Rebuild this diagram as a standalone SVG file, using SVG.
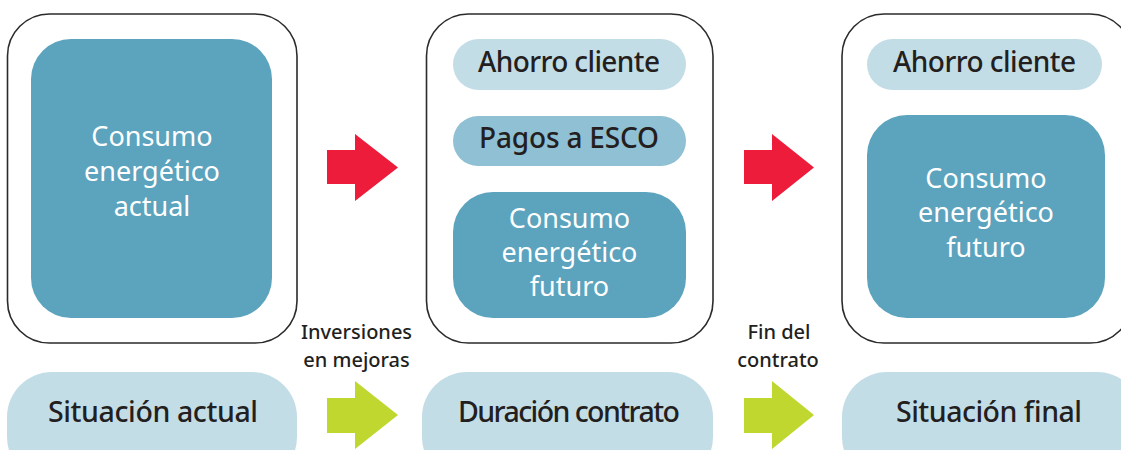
<svg xmlns="http://www.w3.org/2000/svg" width="1121" height="450" viewBox="0 0 1121 450">
<defs>
<style>
.frame{fill:#fff;stroke:#2b2b2b;stroke-width:1.6}
.teal{fill:#5ca3be}
.light{fill:#c3dde7}
.mid{fill:#90c0d3}
.red{fill:#ed1c3a}
.green{fill:#c0d72f}
.wt{font-family:"Noto Sans","Open Sans",sans-serif;font-size:27px;fill:#fff;text-anchor:middle}
.dk{font-family:"Noto Sans","Open Sans",sans-serif;font-size:28px;font-weight:500;fill:#231f20;text-anchor:middle}
.big{font-family:"Noto Sans","Open Sans",sans-serif;font-size:28.5px;font-weight:500;fill:#231f20;text-anchor:middle}
.sm{font-family:"Noto Sans","Open Sans",sans-serif;font-size:20px;font-weight:500;fill:#231f20;text-anchor:middle}
</style>
</defs>
<rect width="1121" height="450" fill="#fff"/>
<g id="box-actual">
<rect class="frame" x="7.5" y="14" width="289.5" height="329" rx="42"/>
<rect class="teal" x="31" y="39" width="241" height="279" rx="40"/>
<text class="wt" x="152" y="146">Consumo</text>
<text class="wt" x="152" y="181">energético</text>
<text class="wt" x="152" y="216">actual</text>
</g>
<g id="box-duracion">
<rect class="frame" x="426.5" y="14" width="286.5" height="329" rx="42"/>
<g id="ahorro-1"><rect class="light" x="453" y="39" width="233" height="51" rx="25.5"/><text class="dk" x="569" y="72" textLength="182">Ahorro cliente</text></g>
<g id="pagos"><rect class="mid" x="453" y="116" width="233" height="50" rx="25"/><text class="dk" x="569" y="148" textLength="180">Pagos a ESCO</text></g>
<g id="futuro-1"><rect class="teal" x="453" y="192" width="233" height="126" rx="40"/>
<text class="wt" x="569.5" y="228">Consumo</text>
<text class="wt" x="569.5" y="262">energético</text>
<text class="wt" x="569.5" y="296">futuro</text></g>
</g>
<g id="box-final">
<rect class="frame" x="842" y="14" width="290" height="329" rx="42"/>
<g id="ahorro-2"><rect class="light" x="867" y="39" width="235" height="51" rx="25.5"/><text class="dk" x="984.5" y="72" textLength="183">Ahorro cliente</text></g>
<g id="futuro-2"><rect class="teal" x="867" y="115" width="238" height="203" rx="40"/>
<text class="wt" x="986" y="188">Consumo</text>
<text class="wt" x="986" y="222">energético</text>
<text class="wt" x="986" y="257">futuro</text></g>
</g>
<g id="sit-actual"><rect class="light" x="7" y="372" width="290" height="110" rx="45"/><text class="big" x="153" y="422" textLength="210">Situación actual</text></g>
<g id="duracion"><rect class="light" x="422" y="372" width="291" height="110" rx="45"/><text class="big" x="569" y="422" textLength="222">Duración contrato</text></g>
<g id="sit-final"><rect class="light" x="842" y="372" width="300" height="110" rx="45"/><text class="big" x="989" y="422" textLength="186">Situación final</text></g>
<g id="connectors">
<polygon class="red" points="327,150 355,150 355,134 398,167.5 355,201 355,184 327,184"/>
<polygon class="red" points="744,150 772,150 772,134 814,167.5 772,201 772,184 744,184"/>
<polygon class="green" points="327,398 355,398 355,381 398,415 355,449 355,433 327,433"/>
<polygon class="green" points="744,398 772,398 772,381 814,415 772,449 772,433 744,433"/>
<text class="sm" x="356.5" y="339">Inversiones</text>
<text class="sm" x="356.5" y="367">en mejoras</text>
<text class="sm" x="779" y="339">Fin del</text>
<text class="sm" x="778" y="367">contrato</text>
</g>
</svg>
